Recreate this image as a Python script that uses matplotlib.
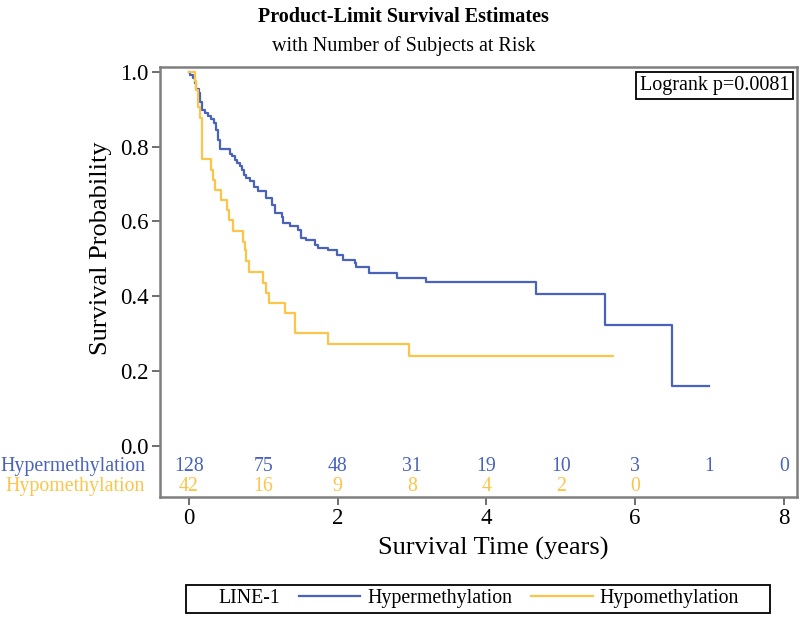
import matplotlib
matplotlib.use("Agg")
import matplotlib.pyplot as plt
from matplotlib.lines import Line2D
from matplotlib.patches import Rectangle

plt.rcParams['font.family'] = ['Liberation Serif', 'DejaVu Serif']

# Kaplan-Meier step points (time in years, survival)
hyper_t = [0, 0.02, 0.05, 0.08, 0.10, 0.13, 0.15, 0.17, 0.22, 0.26, 0.30, 0.34,
           0.36, 0.39, 0.42, 0.55, 0.58, 0.62, 0.65, 0.69, 0.71, 0.74, 0.77,
           0.82, 0.87, 0.93, 1.03, 1.12, 1.16, 1.25, 1.27, 1.36, 1.47, 1.51,
           1.58, 1.69, 1.73, 1.87, 1.99, 2.07, 2.23, 2.25, 2.42, 2.80, 3.19,
           4.67, 5.60, 6.49, 7.00]
hyper_s = [1.0, 0.992, 0.983, 0.970, 0.954, 0.943, 0.918, 0.898, 0.891, 0.882,
           0.874, 0.863, 0.845, 0.818, 0.794, 0.781, 0.774, 0.763, 0.756, 0.747,
           0.738, 0.725, 0.716, 0.707, 0.693, 0.680, 0.662, 0.644, 0.622, 0.613,
           0.595, 0.588, 0.578, 0.555, 0.549, 0.537, 0.528, 0.524, 0.511, 0.497,
           0.488, 0.477, 0.463, 0.450, 0.437, 0.405, 0.324, 0.159, 0.159]

hypo_t = [0, 0.08, 0.10, 0.12, 0.15, 0.18, 0.30, 0.32, 0.35, 0.43, 0.51, 0.54,
          0.59, 0.72, 0.75, 0.77, 0.81, 1.00, 1.03, 1.07, 1.29, 1.42, 1.87,
          2.96, 5.70]
hypo_s = [1.0, 0.976, 0.952, 0.905, 0.877, 0.767, 0.738, 0.711, 0.684, 0.658,
          0.631, 0.604, 0.573, 0.546, 0.524, 0.493, 0.466, 0.435, 0.408, 0.381,
          0.355, 0.301, 0.272, 0.241, 0.241]

# numbers at risk
risk_times = [0, 1, 2, 3, 4, 5, 6, 7, 8]
hyper_risk = [128, 75, 48, 31, 19, 10, 3, 1, 0]
hypo_risk = [42, 16, 9, 8, 4, 2, 0]

blue = '#4863b9'
yellow = '#fbc54a'
tsize = 14.3

fig = plt.figure(figsize=(8, 6.18), dpi=100)
ax = fig.add_axes([0.2, 0.196, 0.796, 0.696])

ax.step(hyper_t, hyper_s, where='post', color=blue, lw=1.6)
ax.step(hypo_t, hypo_s, where='post', color=yellow, lw=1.6)

ax.set_xlim(-0.39, 8.175)
ax.set_ylim(-0.1364, 1.0134)
ax.set_yticks([0, 0.2, 0.4, 0.6, 0.8, 1.0])
ax.set_yticklabels(['0.0', '0.2', '0.4', '0.6', '0.8', '1.0'])
ax.set_xticks([0, 2, 4, 6, 8])
ax.tick_params(direction='out', length=6, width=1.2, color='#555555',
               labelsize=16.5, pad=2)
for sp in ax.spines.values():
    sp.set_color('#7f7f7f')
    sp.set_linewidth(1.8)

ax.set_ylabel('Survival Probability', fontsize=19)
ax.yaxis.set_label_coords(-0.075, 0.579)
ax.set_xlabel('Survival Time (years)', fontsize=19)
ax.xaxis.set_label_coords(0.523, -0.093)

# at-risk table inside the frame
lab_tr = ax.get_yaxis_transform()
ax.text(-0.0235, -0.055, 'Hypermethylation', transform=lab_tr, ha='right',
        va='center', color=blue, fontsize=tsize)
ax.text(-0.0235, -0.108, 'Hypomethylation', transform=lab_tr, ha='right',
        va='center', color=yellow, fontsize=tsize)
for t, n in zip(risk_times, hyper_risk):
    ax.text(t, -0.055, str(n), ha='center', va='center', color=blue, fontsize=tsize)
for t, n in zip(risk_times, hypo_risk):
    ax.text(t, -0.108, str(n), ha='center', va='center', color=yellow, fontsize=tsize)

ax.text(0.988, 0.978, 'Logrank p=0.0081', transform=ax.transAxes, ha='right',
        va='top', fontsize=14.5,
        bbox=dict(boxstyle='square,pad=0.2', fc='white', ec='black', lw=1.3))

fig.text(0.504, 0.972, 'Product-Limit Survival Estimates', ha='center',
         va='center', fontsize=14.5, fontweight='bold')
fig.text(0.504, 0.925, 'with Number of Subjects at Risk', ha='center',
         va='center', fontsize=14.5)

# legend row: "LINE-1" then the two groups, inside a plain box
handles = [Line2D([], [], linestyle='none'),
           Line2D([], [], color=blue, lw=1.6),
           Line2D([], [], color=yellow, lw=1.6)]
leg = fig.legend(handles, ['LINE-1', 'Hypermethylation', 'Hypomethylation'],
                 ncol=3, loc='center', bbox_to_anchor=(0.598, 0.031),
                 fontsize=tsize, handlelength=3.1, handletextpad=0.35,
                 columnspacing=0.95, frameon=False, borderpad=0,
                 borderaxespad=0)
first = leg._legend_handle_box.get_children()[0].get_children()[0]
first.get_children()[0].width = 0
first.sep = 0
fig.add_artist(Rectangle((186 / 800, 5 / 618), 584 / 800, 28 / 618,
                         transform=fig.transFigure, fill=False,
                         ec='black', lw=1.3))

fig.savefig('out.png', dpi=100)
